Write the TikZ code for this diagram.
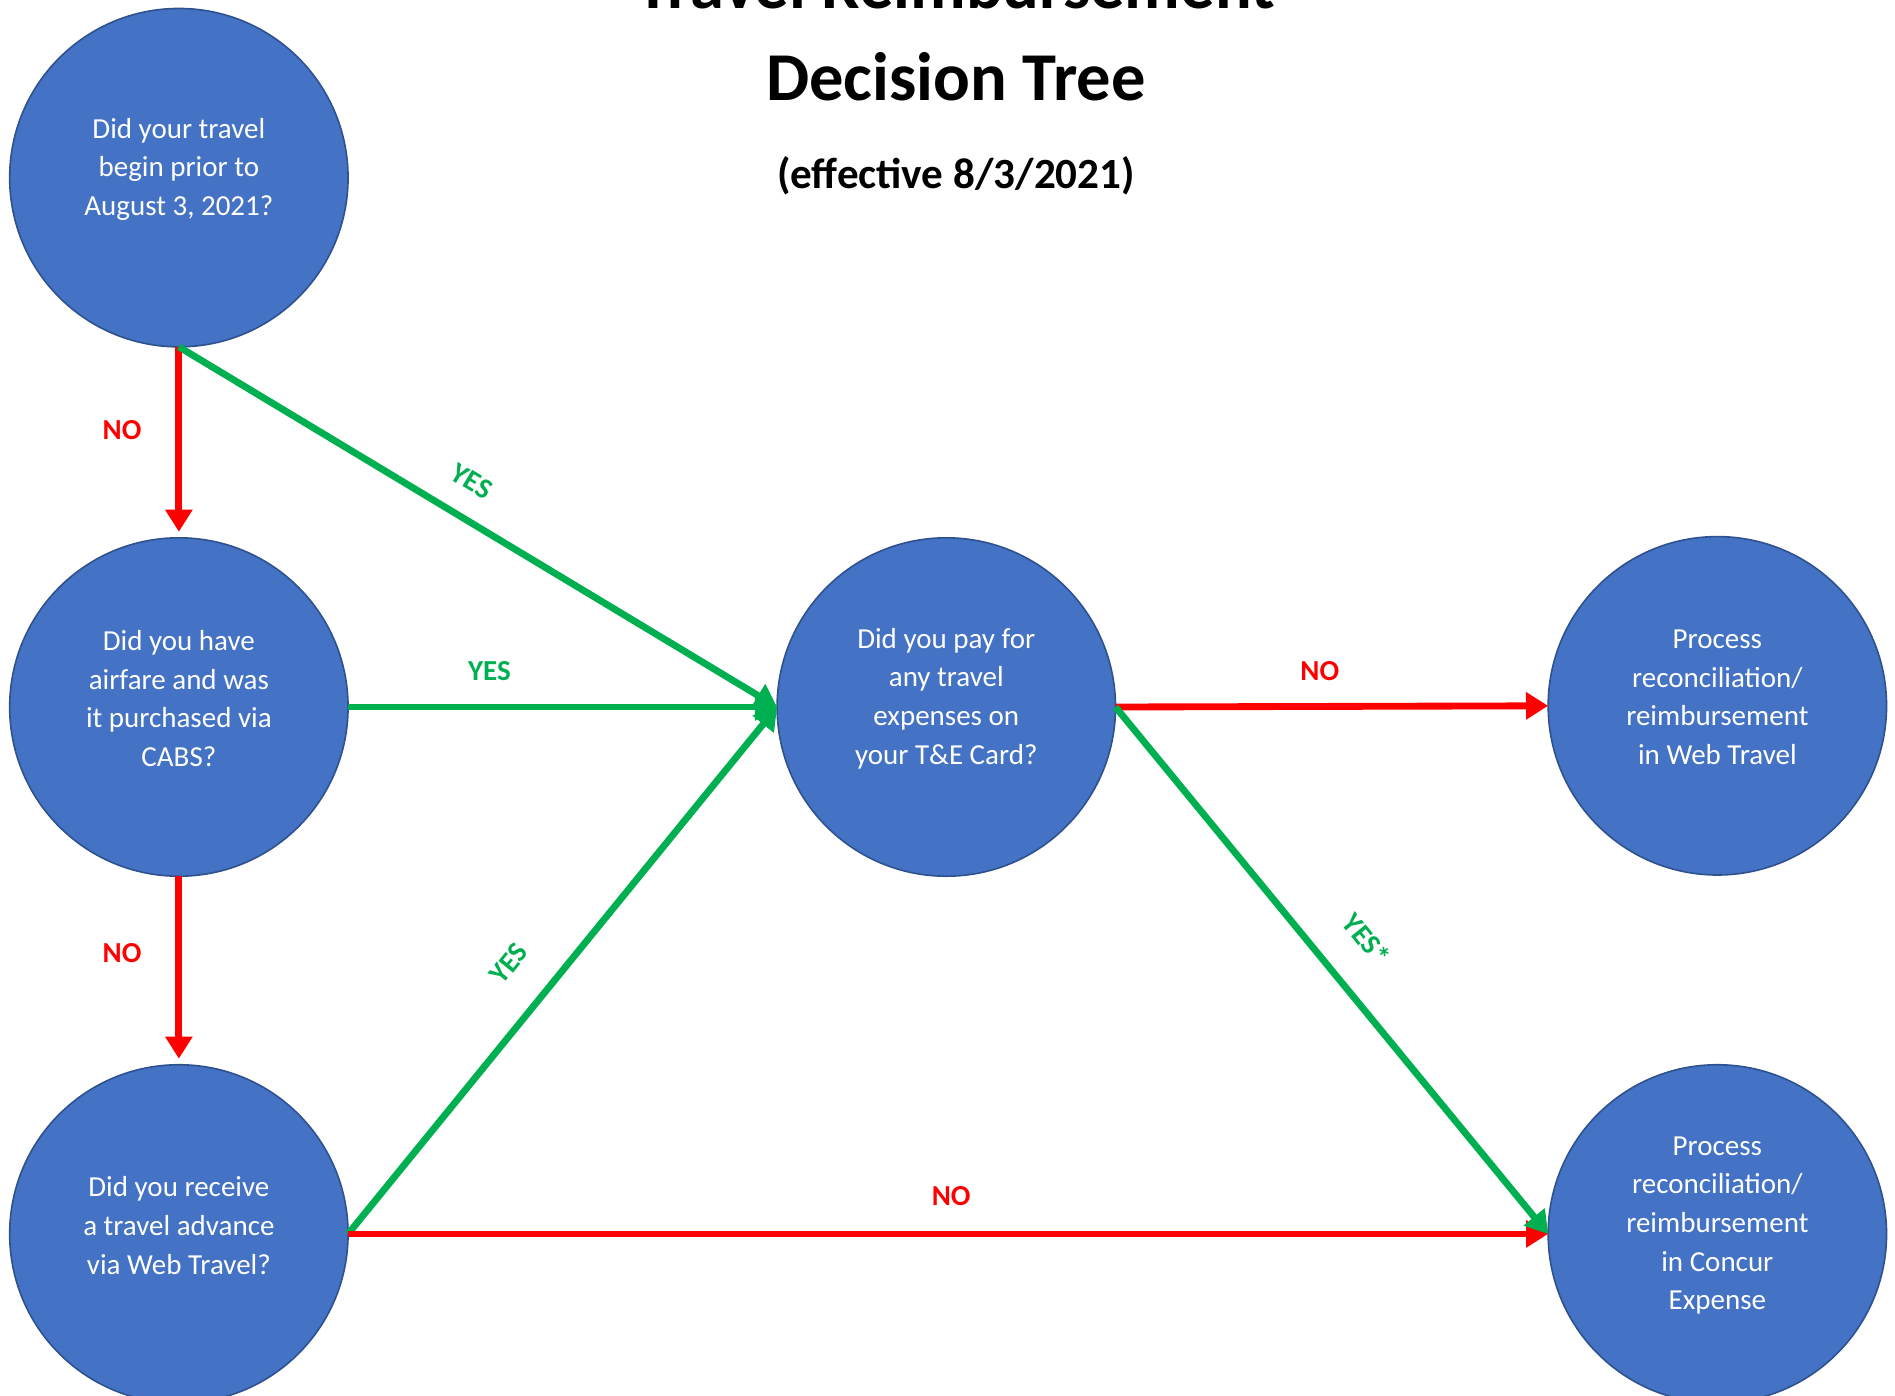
\documentclass[tikz,border=0pt]{standalone}
\usepackage{fontspec}
\setmainfont{Carlito}
\usetikzlibrary{arrows.meta}
\definecolor{qblue}{HTML}{4472C4}
\definecolor{qedge}{HTML}{2F528F}
\definecolor{yesgreen}{HTML}{00B050}
\definecolor{nored}{HTML}{FF0000}
\tikzset{
  qnode/.style={circle, fill=qblue, draw=qedge, line width=0.8pt, minimum size=168pt, inner sep=0pt, outer sep=0pt},
  qtext/.style={text=white, align=center, font=\fontsize{14.4}{19.2}\selectfont, yshift=4.2pt},
  yesline/.style={draw=yesgreen, line width=3.4pt, -{Triangle[length=11pt,width=13pt]}},
  noline/.style={draw=nored, line width=3.4pt, -{Triangle[length=11pt,width=13pt]}},
  yeslabel/.style={text=yesgreen, font=\bfseries\fontsize{14.4}{17}\selectfont},
  nolabel/.style={text=nored, font=\bfseries\fontsize{14.4}{17}\selectfont},
}
\begin{document}
\begin{tikzpicture}[x=0.6pt,y=-0.6pt]
\useasboundingbox (0,0) rectangle (1568,1155);
% title
\node[anchor=base, font=\bfseries\fontsize{34}{40}\selectfont] (t1) at (791,7) {Travel Reimbursement};
\node[anchor=base, font=\bfseries\fontsize{34}{40}\selectfont] (t2) at (791,83) {Decision Tree};
\node[anchor=base, font=\bfseries\fontsize{21.4}{26}\selectfont] (t3) at (791,156) {(effective 8/3/2021)};
% nodes
\node[qnode, label={[qtext]center:Did your travel\\begin prior to\\August 3, 2021?}] (c1) at (148,147) {};
\node[qnode, label={[qtext]center:Did you have\\airfare and was\\it purchased via\\CABS?}] (c2) at (148,585) {};
\node[qnode, label={[qtext]center:Did you receive\\a travel advance\\via Web Travel?}] (c3) at (148,1021) {};
\node[qnode, label={[qtext]center:Did you pay for\\any travel\\expenses on\\your T\&E Card?}] (c4) at (783,585) {};
\node[qnode, label={[qtext]center:Process\\reconciliation/\\reimbursement\\in Web Travel}] (c5) at (1421,584) {};
\node[qnode, label={[qtext]center:Process\\reconciliation/\\reimbursement\\in Concur\\Expense}] (c6) at (1421,1021) {};
% connectors
\draw[noline, shorten >=3pt] (c1.south) -- (c2.north);
\draw[noline, shorten >=3pt] (c2.south) -- (c3.north);
\draw[yesline] (c1.south) -- (c4.west);
\draw[yesline] (c2.east) -- (c4.west);
\draw[yesline] (c3.east) -- (c4.west);
\draw[noline] (c3.east) -- (c6.west);
\draw[noline] (c4.east) -- (c5.west);
\draw[yesline] (c4.east) -- (c6.west);
% labels
\node[nolabel] (l1) at (101,356) {NO};
\node[yeslabel, rotate=-31.2] (l2) at (390,398) {YES};
\node[yeslabel] (l3) at (405,555) {YES};
\node[nolabel] (l4) at (101,789) {NO};
\node[yeslabel, rotate=51] (l5) at (421,797) {YES};
\node[nolabel] (l6) at (787,990) {NO};
\node[nolabel] (l7) at (1092,555) {NO};
\node[yeslabel, rotate=-51] (l8) at (1131,777) {YES*};
\end{tikzpicture}
\end{document}
